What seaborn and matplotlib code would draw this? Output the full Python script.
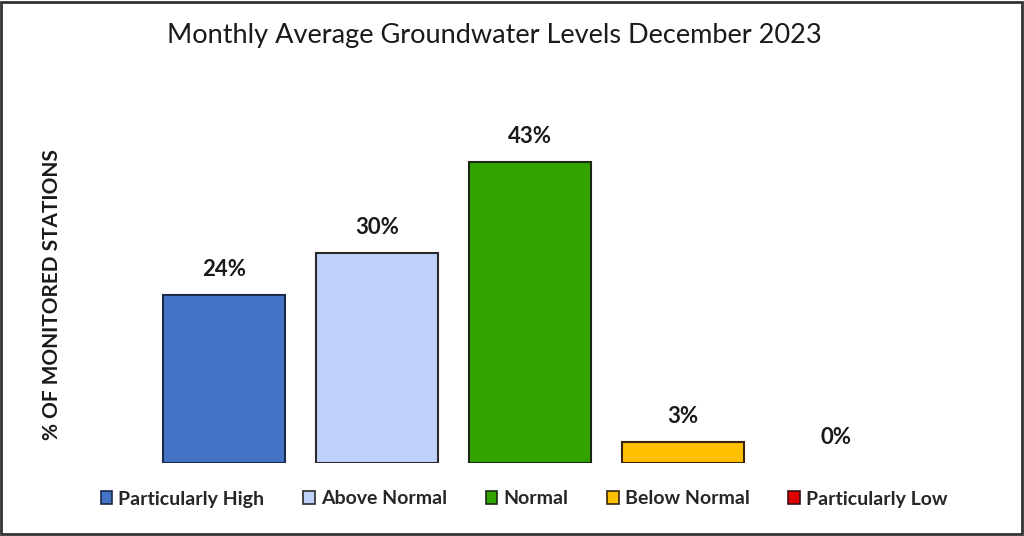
import matplotlib
matplotlib.use('Agg')
import matplotlib.pyplot as plt
import seaborn as sns
import pandas as pd
from matplotlib.patches import Patch, Rectangle

categories = ['Particularly High', 'Above Normal', 'Normal', 'Below Normal', 'Particularly Low']
values = [24, 30, 43, 3, 0]
labels = ['24%', '30%', '43%', '3%', '0%']
colors = ['#4472C4', '#BFD1FB', '#33A300', '#FFC000', '#E00000']
edges = ['#1B2A4A', '#2A2A2A', '#1A2A10', '#3A2410', '#3A1010']

df = pd.DataFrame({'category': categories, 'value': values})

sns.set_theme(style='white')
plt.rcParams['font.family'] = ['Lato', 'DejaVu Sans']

fig = plt.figure(figsize=(10.24, 5.36), dpi=100)
ax = fig.add_axes([147.5 / 1024, 1 - 463 / 536, 765 / 1024, 350 / 536])

sns.barplot(data=df, x='category', y='value', hue='category', palette=colors,
            width=0.8, legend=False, ax=ax, saturation=1)

# zero bar gets no outline, like the original
for bar, ec, v in zip(ax.patches, edges, values):
    bar.set_edgecolor(ec)
    bar.set_linewidth(1.5 if v > 0 else 0)

for i, (v, lab) in enumerate(zip(values, labels)):
    ax.text(i, v + 2.1, lab, ha='center', va='bottom', fontsize=16, fontweight='bold', color='#1a1a1a')

ax.set_xlim(-0.5, 4.5)
ax.set_ylim(0, 50)
ax.set_xticks([])
ax.set_yticks([])
ax.set_xlabel('')
ax.set_ylabel('')
for s in ax.spines.values():
    s.set_visible(False)

fig.text(494 / 1024, 1 - 36 / 536, 'Monthly Average Groundwater Levels December 2023',
         ha='center', va='center', fontsize=19.5, color='#1a1a1a')
fig.text(52 / 1024, 1 - 295 / 536, '% OF MONITORED STATIONS', rotation=90,
         ha='center', va='center', fontsize=15, fontweight='bold', color='#1a1a1a')

handles = [Patch(facecolor=c, edgecolor=e, linewidth=1.2) for c, e in zip(colors, edges)]
fig.legend(handles, categories, loc='center', bbox_to_anchor=(524 / 1024, 1 - 499 / 536),
           ncol=5, frameon=False, prop={'size': 14, 'weight': 'bold'},
           handlelength=0.6, handleheight=0.6, handletextpad=0.3, columnspacing=2.0)

fig.patches.append(Rectangle((0.001, 0.003), 0.997, 0.994, transform=fig.transFigure,
                             fill=False, edgecolor='#333333', linewidth=2))

fig.savefig('out.png', dpi=100)
